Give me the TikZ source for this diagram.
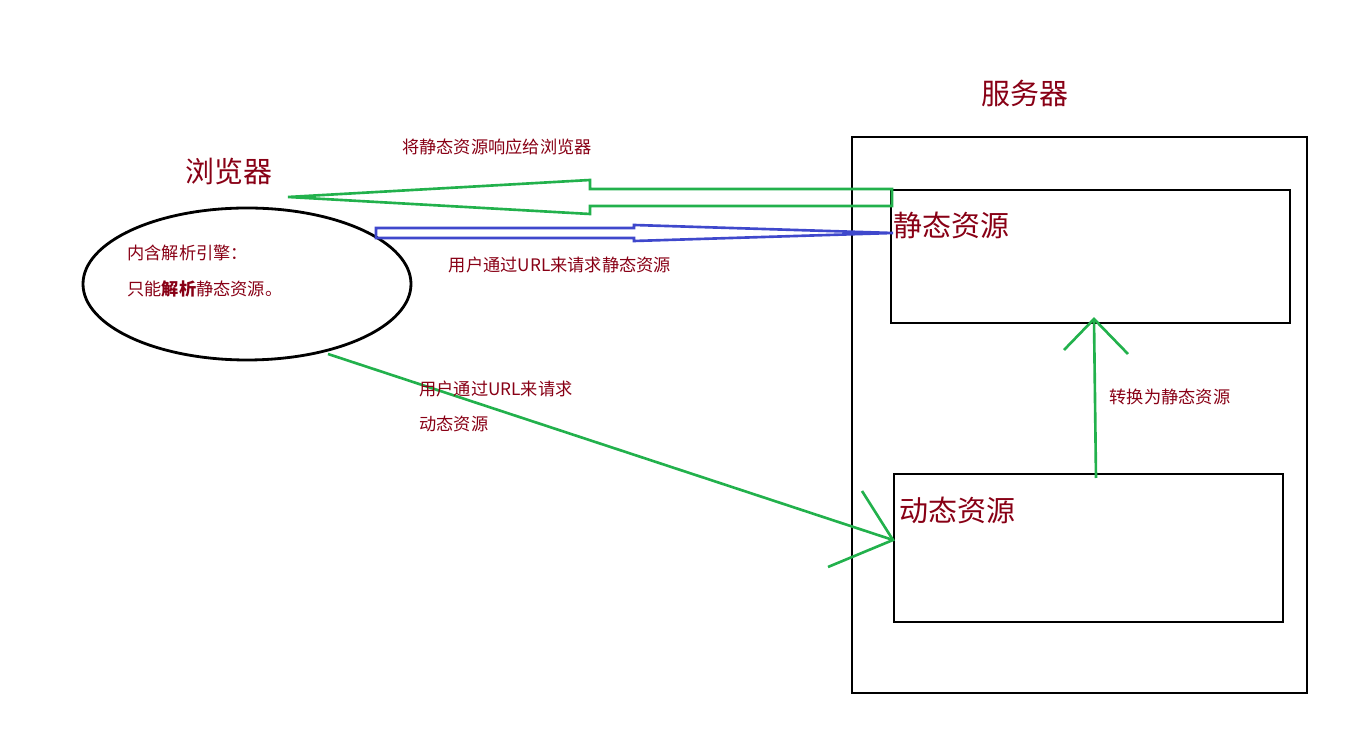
\documentclass[tikz,border=0pt]{standalone}
\usepackage{fontspec}
\setmainfont{Noto Sans CJK SC}
\usepackage{tikz}
\definecolor{txtred}{HTML}{880015}
\definecolor{pgreen}{HTML}{22B14C}
\definecolor{pblue}{HTML}{3F48CC}
\tikzset{
  bigtxt/.style={text=txtred, font=\fontsize{16.5}{18}\selectfont, inner sep=0pt},
  smalltxt/.style={text=txtred, font=\fontsize{9.8}{12}\selectfont, inner sep=0pt},
  box/.style={draw, line width=1.6pt},
  gline/.style={pgreen, line width=1.5pt},
}
\begin{document}
\begin{tikzpicture}[x=0.02cm, y=-0.02cm]
\useasboundingbox (0,0) rectangle (1350,732);

% Server
\draw[box] (852,137) rectangle (1307,693);
\node[bigtxt] (server) at (1025,93) {服务器};
\draw[box] (891,190) rectangle (1290,323);
\node[bigtxt, anchor=west] (static) at (893,225) {静态资源};
\draw[box] (894,474) rectangle (1283,622);
\node[bigtxt, anchor=west] (dynamic) at (899,510) {动态资源};

% Browser
\draw[line width=1.6pt] (247,284) ellipse (164 and 76);
\node[bigtxt] (browser) at (229,172) {浏览器};
\node[smalltxt, anchor=west] (engine) at (127,253) {内含解析引擎：};
\node[smalltxt, anchor=west] (only) at (127,289) {只能\textbf{解析}静态资源。};

% Response (green block arrow)
\draw[pgreen, line width=1.5pt] (288,197) -- (590,180) -- (590,189) -- (892,189)
  -- (892,206) -- (590,206) -- (590,214) -- cycle;
\node[smalltxt] (resp) at (497,147) {将静态资源响应给浏览器};

% Request static (blue block arrow)
\draw[pblue, line width=1.5pt] (376,228) -- (634,228) -- (634,225) -- (893,233)
  -- (634,241) -- (634,238) -- (376,238) -- cycle;
\node[smalltxt] (reqs) at (560,265) {用户通过URL来请求静态资源};

% Request dynamic
\coordinate (dstart) at (328,354);
\coordinate (dtip) at (893,540);
\draw[gline] (dstart) -- (dtip);
\draw[gline] (862,491) -- (dtip) -- (828,567);
\node[smalltxt, anchor=west] (reqd1) at (419,389) {用户通过URL来请求};
\node[smalltxt, anchor=west] (reqd2) at (419,424) {动态资源};

% Convert
\coordinate (cstart) at (1096,478);
\coordinate (ctip) at (1094,319);
\draw[gline] (cstart) -- (ctip);
\draw[gline] (1064,350) -- (ctip) -- (1128,354);
\node[smalltxt] (conv) at (1170,397) {转换为静态资源};
\end{tikzpicture}
\end{document}
